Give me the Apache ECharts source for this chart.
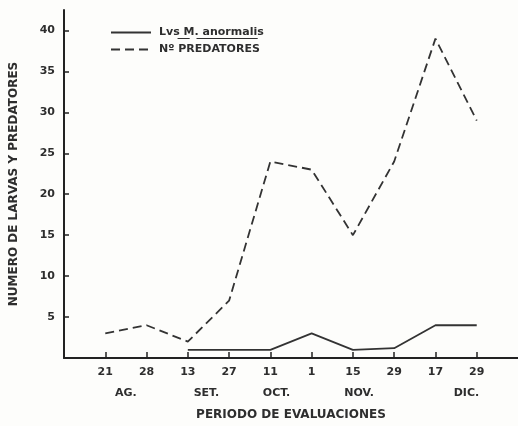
<!DOCTYPE html>
<html>
<head>
<meta charset="utf-8">
<script src="https://cdn.jsdelivr.net/npm/echarts@6/dist/echarts.min.js"></script>
<style>
html,body{margin:0;padding:0;background:#fdfdfb;}
#chart{width:518px;height:426px;}
</style>
</head>
<body>
<div id="chart"></div>
<script>
// ---- data ----
var dayLabels = ['21','28','13','27','11','1','15','29','17','29'];
var monthLabels = ['AG.','SET.','OCT.','NOV.','DIC.'];
var monthAt = [0.5, 2.45, 4.15, 6.15, 8.75]; // position along the evaluation index
var larvaeIdx = [2,3,4,5,6,7,8,9];
var larvaeVals = [1,1,1,3,1,1.2,4,4];
var predIdx = [0,1,2,3,4,5,6,7,8,9];
var predVals = [3,4,2,7,24,23,15,24,39,29];
var yTicks = [5,10,15,20,25,30,35,40];
var seriesNames = ['Lvs M. anormalis','Nº PREDATORES'];

var FONT = '"DejaVu Sans", sans-serif';
var INK = '#2e2e2e';

function pairs(xs, ys){ return xs.map(function(x,i){ return [x, ys[i]]; }); }

var chart = echarts.init(document.getElementById('chart'), null, {renderer:'canvas'});

var option = {
  backgroundColor: '#fdfdfb',
  animation: false,
  textStyle: {fontFamily: FONT, color: INK},
  grid: {left: 63, right: 0, top: 10, bottom: 65, containLabel: false},
  legend: {
    left: 105, top: 22, orient: 'vertical',
    itemWidth: 40, itemHeight: 12, itemGap: 6,
    data: seriesNames,
    itemStyle: {opacity: 0},
    textStyle: {fontFamily: FONT, fontWeight: 'bold', fontSize: 11, color: INK, padding: [0,0,0,3]}
  },
  xAxis: [{
    type: 'value', min: -1, max: 10, interval: 1,
    axisLine: {show: true, onZero: false, lineStyle: {color: '#222', width: 2}},
    axisTick: {show: true, inside: true, length: 6, customValues: predIdx, lineStyle: {color: '#222', width: 1.5}},
    splitLine: {show: false},
    axisLabel: {
      customValues: predIdx, margin: 9,
      fontFamily: FONT, fontWeight: 'bold', fontSize: 11, color: INK,
      formatter: function(v){ return dayLabels[Math.round(v)] || ''; }
    }
  }, {
    type: 'value', min: -1, max: 10, position: 'bottom', offset: 21,
    axisLine: {show: false, onZero: false}, axisTick: {show: false}, splitLine: {show: false},
    axisLabel: {
      customValues: monthAt, margin: 9,
      fontFamily: FONT, fontWeight: 'bold', fontSize: 11, color: INK,
      formatter: function(v){ var i = monthAt.indexOf(v); return i >= 0 ? monthLabels[i] : ''; }
    },
    name: 'PERIODO DE EVALUACIONES', nameLocation: 'middle', nameGap: 30,
    nameTextStyle: {fontFamily: FONT, fontWeight: 'bold', fontSize: 12, color: INK}
  }],
  yAxis: {
    type: 'value', min: 0, max: 42.5, interval: 5,
    axisLine: {show: true, onZero: false, lineStyle: {color: '#222', width: 2}},
    axisTick: {show: true, inside: true, length: 5, customValues: yTicks, lineStyle: {color: '#222', width: 1.5}},
    splitLine: {show: false},
    axisLabel: {customValues: yTicks, margin: 9, fontFamily: FONT, fontWeight: 'bold', fontSize: 11, color: INK},
    name: 'NUMERO DE LARVAS Y PREDATORES', nameLocation: 'middle', nameGap: 44, nameRotate: 90,
    nameTextStyle: {fontFamily: FONT, fontWeight: 'bold', fontSize: 12, color: INK}
  },
  series: [{
    name: seriesNames[0], type: 'line', xAxisIndex: 0,
    data: pairs(larvaeIdx, larvaeVals), symbol: 'none',
    lineStyle: {color: '#333', width: 1.8, type: 'solid'},
    itemStyle: {color: '#333'}
  }, {
    name: seriesNames[1], type: 'line', xAxisIndex: 0,
    data: pairs(predIdx, predVals), symbol: 'none',
    lineStyle: {color: '#333', width: 1.8, type: [9, 5]},
    itemStyle: {color: '#333'}
  }]
};
chart.setOption(option);

// underline "M." and "anormalis" in the legend, measured from the rendered font
(function(){
  var c = document.createElement('canvas').getContext('2d');
  c.font = 'bold 11px ' + FONT;
  var textX = 105 + 40 + 5 + 3;
  var pre = c.measureText('Lvs ').width;
  var m = c.measureText('M.').width;
  var pre2 = c.measureText('Lvs M. ').width;
  var an = c.measureText('anormalis').width;
  var y = 38.5;
  chart.setOption({graphic: [
    {type: 'line', shape: {x1: textX + pre, y1: y, x2: textX + pre + m - 3, y2: y}, style: {stroke: INK, lineWidth: 1}},
    {type: 'line', shape: {x1: textX + pre2, y1: y, x2: textX + pre2 + an, y2: y}, style: {stroke: INK, lineWidth: 1}}
  ]});
})();
</script>
</body>
</html>
